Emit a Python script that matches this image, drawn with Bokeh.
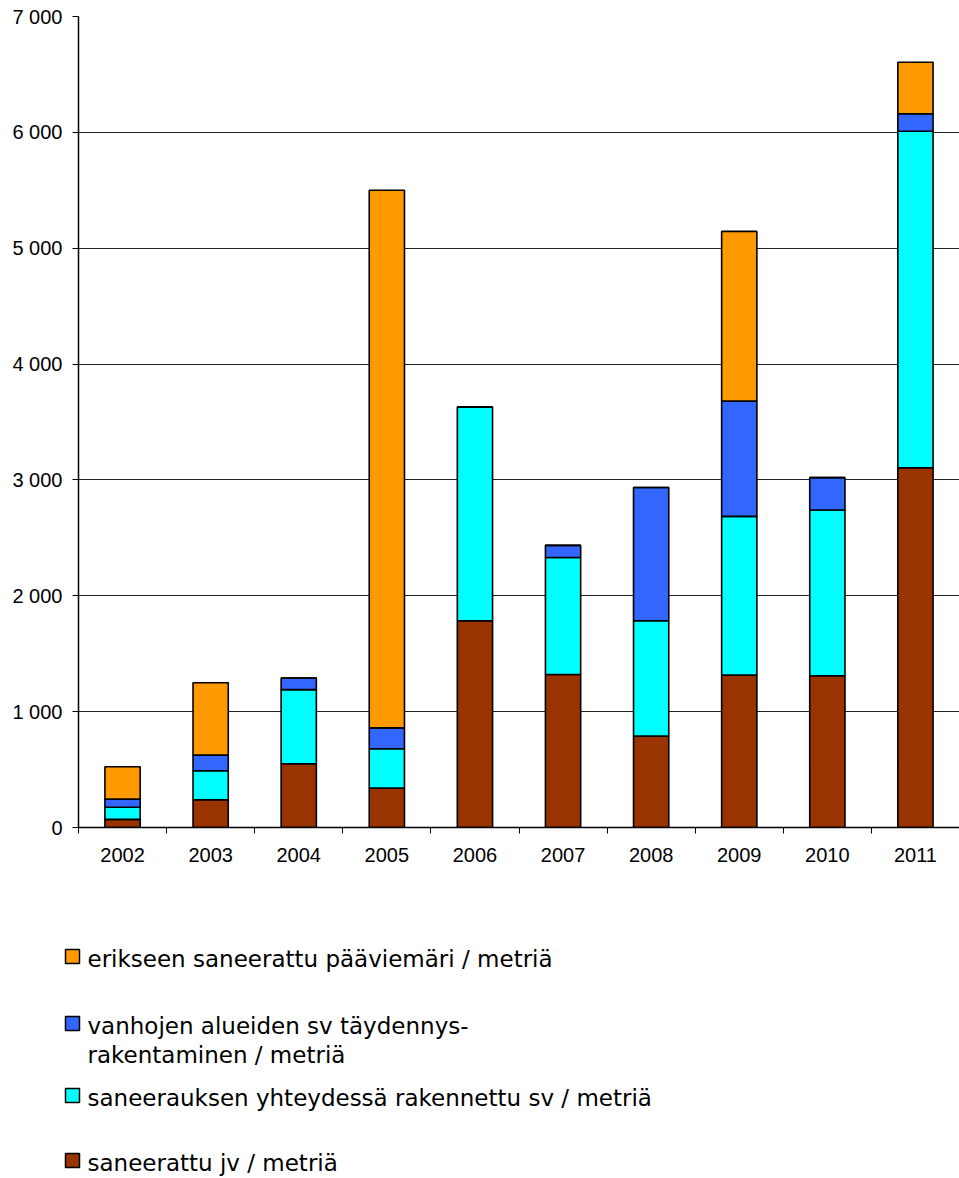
from bokeh.plotting import figure
from bokeh.models import ColumnDataSource, Range1d, FixedTicker
from bokeh.layouts import column, row
from bokeh.embed import file_html
from bokeh.resources import INLINE
from bokeh.core.properties import value

# ---------------- data ----------------
years = ["2002", "2003", "2004", "2005", "2006", "2007", "2008", "2009", "2010", "2011"]
saneerattu_jv = [70, 240, 550, 340, 1785, 1320, 790, 1315, 1310, 3105]
saneerauksen_sv = [105, 250, 640, 340, 1845, 1010, 995, 1370, 1430, 2905]
taydennys_sv = [70, 135, 100, 180, 0, 105, 1150, 995, 280, 150]
paaviemari = [280, 625, 0, 4640, 0, 0, 0, 1465, 0, 445]

series_keys = ["jv", "sv", "tayd", "paav"]  # bottom -> top
series_colors = ["#993300", "#00FFFF", "#3366FF", "#FF9900"]
series_labels = [
    "saneerattu jv / metriä",
    "saneerauksen yhteydessä rakennettu sv / metriä",
    "vanhojen alueiden sv täydennys-\nrakentaminen / metriä",
    "erikseen saneerattu pääviemäri / metriä",
]

y_ticks = [0, 1000, 2000, 3000, 4000, 5000, 6000, 7000]
y_tick_labels = ["0", "1 000", "2 000", "3 000", "4 000", "5 000", "6 000", "7 000"]

# ---------------- main chart ----------------
xs = list(range(len(years)))
source = ColumnDataSource(dict(
    x=xs, jv=saneerattu_jv, sv=saneerauksen_sv, tayd=taydennys_sv, paav=paaviemari
))

FONT = "Liberation Sans"

p = figure(width=959, height=880, x_range=Range1d(-0.5, len(years) - 0.5),
           y_range=Range1d(0, 7000), output_backend="svg", toolbar_location=None,
           min_border_left=78, min_border_right=0, min_border_top=16, min_border_bottom=53)
p.outline_line_color = None
p.background_fill_color = "white"
p.border_fill_color = "white"

p.vbar_stack(series_keys, x="x", width=0.4, source=source, color=series_colors,
             line_color="black", line_width=1.6)

p.xgrid.visible = False
p.ygrid.grid_line_color = "#222222"
p.ygrid.grid_line_width = 1
p.ygrid.ticker = FixedTicker(ticks=y_ticks)

p.yaxis.ticker = FixedTicker(ticks=y_ticks)
p.yaxis.major_label_overrides = {t: l for t, l in zip(y_ticks, y_tick_labels)}
p.yaxis.major_label_text_font = FONT
p.yaxis.major_label_text_font_size = "20px"
p.yaxis.major_label_text_color = "black"
p.yaxis.axis_line_color = "black"
p.yaxis.axis_line_width = 1.5
p.yaxis.major_tick_line_color = "black"
p.yaxis.major_tick_in = 0
p.yaxis.major_tick_out = 6
p.yaxis.minor_tick_line_color = None
p.yaxis.major_label_standoff = 10

p.xaxis.ticker = FixedTicker(ticks=xs, minor_ticks=[i - 0.5 for i in range(len(years) + 1)])
p.xaxis.major_label_overrides = {i: y for i, y in zip(xs, years)}
p.xaxis.major_label_text_font = FONT
p.xaxis.major_label_text_font_size = "20px"
p.xaxis.major_label_text_color = "black"
p.xaxis.axis_line_color = "black"
p.xaxis.axis_line_width = 1.5
p.xaxis.major_tick_line_color = None
p.xaxis.major_tick_in = 0
p.xaxis.major_tick_out = 6
p.xaxis.minor_tick_line_color = "black"
p.xaxis.minor_tick_in = 0
p.xaxis.minor_tick_out = 6
p.xaxis.major_label_standoff = 14

# ---------------- legend panel ----------------
LEG_TOP = 880
LEG_H = 1178 - LEG_TOP
leg = figure(width=959, height=LEG_H, x_range=Range1d(0, 959), y_range=Range1d(1178, LEG_TOP),
             output_backend="svg", toolbar_location=None, min_border=0,
             min_border_left=0, min_border_right=0, min_border_top=0, min_border_bottom=0,
             x_axis_location=None, y_axis_location=None)
leg.outline_line_color = None
leg.grid.visible = False

row_centers = [956, 1023, 1095, 1160]  # legend layout (top -> bottom)
line_gap = 29
order = list(reversed(range(len(series_keys))))  # top series first
sq = dict(x=[], y=[], c=[])
tx = dict(x=[], y=[], t=[])
for r, si in enumerate(order):
    cy = row_centers[r]
    sq["x"].append(72)
    sq["y"].append(cy)
    sq["c"].append(series_colors[si])
    for k, line in enumerate(series_labels[si].split("\n")):
        tx["x"].append(87)
        tx["y"].append(cy + 2 + k * line_gap)
        tx["t"].append(line)

leg.rect(x="x", y="y", width=14, height=14, fill_color="c", line_color="black",
         line_width=1.5, source=ColumnDataSource(sq))
leg.text(x="x", y="y", text="t", source=ColumnDataSource(tx),
         text_font=value("DejaVu Sans"), text_font_size="23px", text_color="black",
         text_baseline="middle", text_align="left")

layout = column(p, row(leg, spacing=0), spacing=0)
open("out.html", "w").write(file_html(layout, INLINE))
